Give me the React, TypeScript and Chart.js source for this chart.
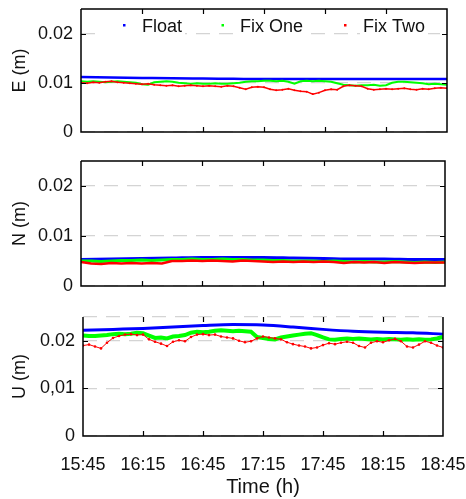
import React, { useEffect, useRef } from 'react';
import { Chart, registerables } from 'chart.js';

Chart.register(...registerables);

// ---------- data ----------
const SERIES_NAMES = ['Float', 'Fix One', 'Fix Two'];
const SERIES_COLORS = ['#0000ff', '#00ff00', '#ff0000'];
const TIME_LABELS = ['15:45', '16:15', '16:45', '17:15', '17:45', '18:15', '18:45'];
const TIME_TICKS_MIN = [0, 30, 60, 90, 120, 150, 180];
const Y_TICKS = [0, 0.01, 0.02];
const Y_LABELS_EN = ['0', '0.01', '0.02'];
const Y_LABELS_U = ['0', '0,01', '0.02'];

// sample spacing (minutes after 15:45)
const FLOAT_STEP = 15;
const E_STEP = 3;
const N_STEP = 5;
const U_STEP = 3;

const E_FLOAT = [0.0112, 0.0111, 0.0110, 0.0109, 0.01085, 0.0108, 0.01075, 0.01075, 0.01075, 0.01075, 0.01075, 0.01075, 0.01075];
const E_FIX_ONE = [
  0.0103, 0.0102, 0.0103, 0.0102, 0.0101, 0.0102, 0.0103, 0.0102, 0.0101, 0.0100,
  0.0097, 0.0096, 0.0101, 0.0102, 0.0103, 0.0102, 0.0100, 0.0099, 0.0098, 0.0099,
  0.0098, 0.0098, 0.0099, 0.0098, 0.0098, 0.0099, 0.0100, 0.0102, 0.0103, 0.0103,
  0.0104, 0.0104, 0.0103, 0.0104, 0.0102, 0.0098, 0.0103, 0.0104, 0.0103, 0.0104,
  0.0103, 0.0102, 0.0099, 0.0096, 0.0095, 0.0094, 0.0095, 0.0095, 0.0096, 0.0094,
  0.0095, 0.0100, 0.0102, 0.0102, 0.0101, 0.0100, 0.0099, 0.0097, 0.0098, 0.0097,
  0.0096,
];
const E_FIX_TWO = [
  0.0100, 0.0099, 0.0101, 0.0100, 0.0102, 0.0103, 0.0101, 0.0100, 0.0099, 0.0098,
  0.0097, 0.0098, 0.0096, 0.0095, 0.0094, 0.0095, 0.0093, 0.0094, 0.0095, 0.0094,
  0.0093, 0.0094, 0.0093, 0.0092, 0.0094, 0.0093, 0.0090, 0.0087, 0.0091, 0.0092,
  0.0091, 0.0087, 0.0085, 0.0086, 0.0088, 0.0085, 0.0083, 0.0082, 0.0077, 0.0080,
  0.0085, 0.0087, 0.0086, 0.0093, 0.0095, 0.0094, 0.0093, 0.0088, 0.0086, 0.0087,
  0.0088, 0.0087, 0.0088, 0.0089, 0.0087, 0.0086, 0.0088, 0.0087, 0.0089, 0.0090,
  0.0089,
];

const N_FLOAT = [0.0053, 0.0054, 0.0055, 0.0056, 0.0057, 0.0057, 0.0057, 0.0056, 0.0055, 0.0054, 0.0054, 0.0053, 0.0053];
const N_FIX_ONE = [
  0.0050, 0.0050, 0.0049, 0.0050, 0.0051, 0.0051, 0.0052, 0.0051, 0.0052, 0.0053,
  0.0053, 0.0054, 0.0053, 0.0053, 0.0054, 0.0053, 0.0053, 0.0052, 0.0052, 0.0051,
  0.0051, 0.0050, 0.0050, 0.0050, 0.0049, 0.0050, 0.0049, 0.0048, 0.0049, 0.0048,
  0.0048, 0.0049, 0.0048, 0.0047, 0.0048, 0.0047, 0.0048,
];
const N_FIX_TWO = [
  0.0048, 0.0045, 0.0044, 0.0046, 0.0045, 0.0046, 0.0045, 0.0046, 0.0045, 0.0050,
  0.0050, 0.0051, 0.0050, 0.0051, 0.0050, 0.0049, 0.0051, 0.0050, 0.0049, 0.0048,
  0.0049, 0.0048, 0.0049, 0.0048, 0.0049, 0.0048, 0.0046, 0.0048, 0.0047, 0.0048,
  0.0046, 0.0048, 0.0047, 0.0046, 0.0047, 0.0047, 0.0047,
];

const U_FLOAT = [0.0222, 0.0224, 0.0226, 0.0229, 0.0232, 0.0234, 0.0233, 0.0229, 0.0224, 0.0220, 0.0218, 0.0217, 0.0214];
const U_FIX_ONE = [
  0.0211, 0.0210, 0.0210, 0.0211, 0.0212, 0.0214, 0.0215, 0.0214, 0.0215, 0.0217,
  0.0216, 0.0211, 0.0206, 0.0207, 0.0205, 0.0209, 0.0210, 0.0212, 0.0217, 0.0219,
  0.0218, 0.0219, 0.0221, 0.0222, 0.0221, 0.0220, 0.0221, 0.0220, 0.0219, 0.0208,
  0.0206, 0.0204, 0.0203, 0.0207, 0.0209, 0.0211, 0.0213, 0.0215, 0.0216, 0.0212,
  0.0207, 0.0203, 0.0202, 0.0204, 0.0205, 0.0204, 0.0205, 0.0204, 0.0203, 0.0204,
  0.0203, 0.0204, 0.0203, 0.0202, 0.0203, 0.0202, 0.0203, 0.0202, 0.0203, 0.0205,
  0.0208,
];
const U_FIX_TWO = [
  0.0190, 0.0192, 0.0188, 0.0184, 0.0196, 0.0206, 0.0210, 0.0213, 0.0214, 0.0212,
  0.0213, 0.0203, 0.0198, 0.0194, 0.0189, 0.0198, 0.0201, 0.0199, 0.0208, 0.0213,
  0.0214, 0.0212, 0.0213, 0.0209, 0.0207, 0.0205, 0.0200, 0.0197, 0.0199, 0.0205,
  0.0209, 0.0207, 0.0205, 0.0203, 0.0197, 0.0193, 0.0190, 0.0188, 0.0184, 0.0186,
  0.0191, 0.0195, 0.0193, 0.0196, 0.0198, 0.0196, 0.0189, 0.0186, 0.0196, 0.0199,
  0.0197, 0.0201, 0.0204, 0.0199, 0.0188, 0.0186, 0.0192, 0.0199, 0.0196, 0.0190,
  0.0186,
];

// ---------- drawing helpers ----------
const FONT = "'Liberation Sans', Arial, sans-serif";
const W = 466;

const toPoints = (vals: number[], step: number) => vals.map((v, i) => ({ x: i * step, y: v }));

const framePlugin = {
  id: 'frame',
  afterDatasetsDraw(chart: any, _args: any, opts: any) {
    const { ctx, chartArea, scales } = chart;
    const { left, right, top, bottom } = chartArea;
    ctx.save();
    ctx.strokeStyle = '#000';
    ctx.lineWidth = 1.5;
    ctx.beginPath();
    ctx.moveTo(left, top);
    ctx.lineTo(left, bottom);
    ctx.lineTo(right, bottom);
    ctx.lineTo(right, top);
    if (opts.topBorder) ctx.lineTo(left, top);
    ctx.stroke();
    ctx.lineWidth = 1.2;
    ctx.beginPath();
    TIME_TICKS_MIN.slice(1, -1).forEach((m) => {
      const px = Math.round(scales.x.getPixelForValue(m)) + 0.5;
      ctx.moveTo(px, bottom);
      ctx.lineTo(px, bottom - 5);
      ctx.moveTo(px, top);
      ctx.lineTo(px, top + 5);
    });
    Y_TICKS.slice(1).forEach((v) => {
      const py = Math.round(scales.y.getPixelForValue(v)) + 0.5;
      ctx.moveTo(left, py);
      ctx.lineTo(left + 5, py);
      ctx.moveTo(right, py);
      ctx.lineTo(right - 5, py);
    });
    ctx.stroke();

    if (opts.legend) {
      const entries = [
        { dot: 124, text: 142 },
        { dot: 222.5, text: 240 },
        { dot: 345, text: 363 },
      ];
      ctx.font = `18px ${FONT}`;
      ctx.textBaseline = 'middle';
      ctx.textAlign = 'left';
      entries.forEach((e, i) => {
        const w = ctx.measureText(SERIES_NAMES[i]).width;
        ctx.fillStyle = '#fff';
        const boxL = i === 0 ? 98 : e.text - 3;
        ctx.fillRect(boxL, 18, e.text + w + 3 - boxL, 18);
        ctx.fillStyle = SERIES_COLORS[i];
        ctx.fillRect(e.dot - 1, 24, 2.5, 2.5);
        ctx.fillStyle = '#111';
        ctx.fillText(SERIES_NAMES[i], e.text, 27);
      });
    }
    ctx.restore();
  },
};

type PanelCfg = {
  top: number;
  height: number;
  plotTop: number;
  plotBottom: number;
  plotLeft: number;
  plotRight: number;
  title: string;
  yLabels: string[];
  gridVals: number[];
  float: number[];
  fixOne: number[];
  fixTwo: number[];
  fixStep: number;
  widths: [number, number, number];
  redPoint: number;
  showX: boolean;
  topBorder: boolean;
  legend: boolean;
};

const Panel = ({ cfg }: { cfg: PanelCfg }) => {
  const ref = useRef<HTMLCanvasElement>(null);
  useEffect(() => {
    if (!ref.current) return;
    const datasets: any[] = [
      {
        label: SERIES_NAMES[0],
        data: toPoints(cfg.float, FLOAT_STEP),
        borderColor: SERIES_COLORS[0],
        borderWidth: cfg.widths[0],
        pointRadius: 0,
        cubicInterpolationMode: 'monotone',
        order: 3,
      },
      {
        label: SERIES_NAMES[1],
        data: toPoints(cfg.fixOne, cfg.fixStep),
        borderColor: SERIES_COLORS[1],
        borderWidth: cfg.widths[1],
        pointRadius: 0,
        order: 2,
      },
      {
        label: SERIES_NAMES[2],
        data: toPoints(cfg.fixTwo, cfg.fixStep),
        borderColor: SERIES_COLORS[2],
        borderWidth: cfg.widths[2],
        pointRadius: cfg.redPoint,
        pointBorderWidth: 0,
        pointBackgroundColor: SERIES_COLORS[2],
        order: 1,
      },
    ];
    const chart = new Chart(ref.current, {
      type: 'line',
      data: { datasets },
      plugins: [framePlugin],
      options: {
        responsive: false,
        animation: false,
        devicePixelRatio: 1,
        layout: { padding: { top: cfg.plotTop, right: W - cfg.plotRight, left: 0, bottom: 0 } },
        plugins: {
          legend: { display: false },
          tooltip: { enabled: false },
          frame: { topBorder: cfg.topBorder, legend: cfg.legend },
        } as any,
        scales: {
          x: {
            type: 'linear',
            min: 0,
            max: 180,
            afterBuildTicks: (s: any) => {
              s.ticks = TIME_TICKS_MIN.map((v) => ({ value: v }));
            },
            afterFit: (s: any) => {
              s.height = cfg.height - cfg.plotBottom;
              s.paddingLeft = 0;
              s.paddingRight = 0;
            },
            ticks: {
              display: cfg.showX,
              autoSkip: false,
              maxRotation: 0,
              padding: 10,
              color: '#111',
              font: { family: FONT, size: 18 },
              callback: (_v: any, i: number) => TIME_LABELS[i],
            },
            grid: { display: false },
            border: { display: false },
            title: {
              display: cfg.showX,
              text: 'Time (h)',
              color: '#111',
              font: { family: FONT, size: 20 },
              padding: { top: 0, bottom: 0 },
            },
          },
          y: {
            type: 'linear',
            min: 0,
            max: 0.025,
            afterBuildTicks: (s: any) => {
              s.ticks = cfg.gridVals.map((v) => ({ value: v }));
            },
            afterFit: (s: any) => {
              s.width = cfg.plotLeft;
              s.paddingTop = 0;
              s.paddingBottom = 0;
            },
            ticks: {
              padding: 8,
              color: '#111',
              font: { family: FONT, size: 18 },
              callback: (_v: any, i: number) => cfg.yLabels[i] ?? '',
            },
            grid: { color: '#d4d4d4', lineWidth: 1.2, drawTicks: false },
            border: { display: false, dash: [14, 9] },
            title: {
              display: true,
              text: cfg.title,
              color: '#111',
              font: { family: FONT, size: 18 },
              padding: { top: 9, bottom: 0 },
            },
          },
        },
      } as any,
    });
    return () => chart.destroy();
  }, [cfg]);
  return (
    <canvas
      ref={ref}
      width={W}
      height={cfg.height}
      style={{ position: 'absolute', left: 0, top: cfg.top, width: W, height: cfg.height }}
    />
  );
};

const PANELS: PanelCfg[] = [
  {
    top: 0, height: 150, plotTop: 9, plotBottom: 132, plotLeft: 81, plotRight: 447,
    title: 'E (m)', yLabels: Y_LABELS_EN, gridVals: Y_TICKS,
    float: E_FLOAT, fixOne: E_FIX_ONE, fixTwo: E_FIX_TWO, fixStep: E_STEP,
    widths: [2.5, 2, 1.5], redPoint: 1, showX: false, topBorder: true, legend: true,
  },
  {
    top: 150, height: 150, plotTop: 11, plotBottom: 136, plotLeft: 81, plotRight: 445,
    title: 'N (m)', yLabels: Y_LABELS_EN, gridVals: Y_TICKS,
    float: N_FLOAT, fixOne: N_FIX_ONE, fixTwo: N_FIX_TWO, fixStep: N_STEP,
    widths: [3, 3, 2.5], redPoint: 0, showX: false, topBorder: true, legend: false,
  },
  {
    top: 300, height: 199, plotTop: 17, plotBottom: 136, plotLeft: 83, plotRight: 443,
    title: 'U (m)', yLabels: Y_LABELS_U, gridVals: [...Y_TICKS, 0.025],
    float: U_FLOAT, fixOne: U_FIX_ONE, fixTwo: U_FIX_TWO, fixStep: U_STEP,
    widths: [3, 4, 1], redPoint: 1.3, showX: true, topBorder: false, legend: false,
  },
];

export default function App() {
  useEffect(() => {
    document.body.style.margin = '0';
    document.body.style.background = '#fff';
  }, []);
  return (
    <div style={{ position: 'absolute', left: 0, top: 0, width: W, height: 499, background: '#fff' }}>
      {PANELS.map((p, i) => (
        <Panel key={i} cfg={p} />
      ))}
    </div>
  );
}
